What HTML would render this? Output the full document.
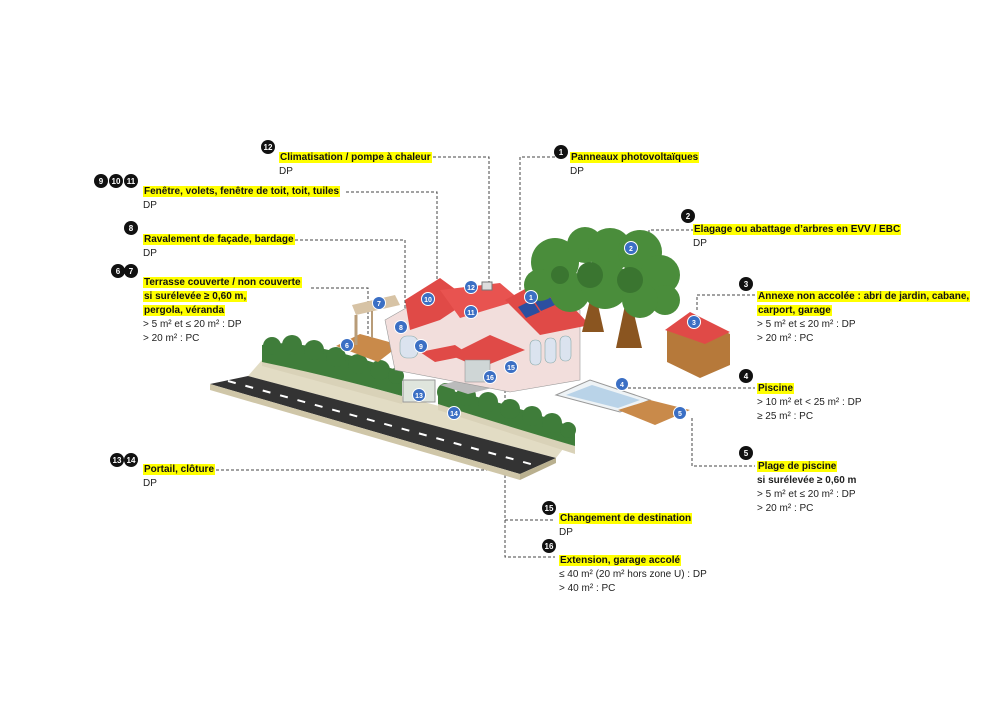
<!DOCTYPE html>
<html><head><meta charset="utf-8"><style>
html,body{margin:0;padding:0;background:#fff}
#c{position:relative;width:1000px;height:707px;overflow:hidden;font-family:"Liberation Sans",sans-serif}
.t{position:absolute;font-size:10px;line-height:14px;color:#222;white-space:nowrap}
.h{background:#ffff00;font-weight:bold;color:#111;padding:0 1px}
</style></head><body><div id="c">
<svg width="1000" height="707" style="position:absolute;left:0;top:0">
<!-- connector lines -->
<g stroke="#444" stroke-width="1" stroke-dasharray="3,2" fill="none">
<path d="M433 157H489V282"/>
<path d="M346 192H437V296"/>
<path d="M295 240H405V322"/>
<path d="M311 288H368V350"/>
<path d="M560 157H520V290"/>
<path d="M694 230H649V242"/>
<path d="M755 295H697V312"/>
<path d="M628 388H755"/>
<path d="M692 418V466H755"/>
<path d="M216 470H505V420"/>
<path d="M505 385V520H555M505 520V557H555"/>
</g>
<!-- sidewalk -->
<polygon points="248,376 262,360 570,440 556,458" fill="#e2dcc4"/>
<!-- road -->
<polygon points="210,384 248,376 556,458 520,474" fill="#333"/>
<polygon points="210,384 520,474 520,480 210,390" fill="#cfc6a8"/>
<polygon points="520,474 556,458 556,463 520,480" fill="#b9b08f"/>
<g stroke="#fff" stroke-width="2" stroke-dasharray="8,10"><line x1="228" y1="381" x2="538" y2="466"/></g>
<!-- low walls -->
<polygon points="262,358 402,396 402,404 262,366" fill="#d9d2b8"/>
<polygon points="438,402 575,446 575,454 438,410" fill="#d9d2b8"/>
<!-- hedges -->
<path d="M262 345 Q300 336 402 372 L402 396 Q330 376 262 362Z" fill="#3f7d3a"/>
<g fill="#3f7d3a"><circle cx="272" cy="346" r="9"/><circle cx="292" cy="345" r="10"/><circle cx="314" cy="350" r="10"/><circle cx="336" cy="357" r="10"/><circle cx="358" cy="364" r="10"/><circle cx="380" cy="370" r="10"/><circle cx="396" cy="376" r="8"/></g>
<path d="M438 388 Q500 400 575 428 L575 446 Q500 424 438 404Z" fill="#3f7d3a"/>
<g fill="#3f7d3a"><circle cx="446" cy="392" r="9"/><circle cx="466" cy="396" r="10"/><circle cx="488" cy="402" r="10"/><circle cx="510" cy="409" r="10"/><circle cx="532" cy="416" r="10"/><circle cx="552" cy="423" r="10"/><circle cx="568" cy="430" r="8"/></g>
<rect x="403" y="380" width="32" height="22" fill="#dfe5dd" stroke="#999"/>
<!-- driveway -->
<polygon points="440,385 470,378 500,386 468,394" fill="#bbb"/>
<!-- terrace -->
<polygon points="336,346 360,334 400,345 378,362" fill="#c98a4a"/>
<polygon points="352,305 395,295 400,305 356,315" fill="#d7c3a5"/>
<line x1="356" y1="315" x2="356" y2="345" stroke="#b89c78" stroke-width="3"/>
<line x1="372" y1="311" x2="372" y2="338" stroke="#b89c78" stroke-width="2"/>
<!-- house -->
<polygon points="385,320 420,300 520,300 580,310 580,380 510,392 395,370" fill="#f2dedc" stroke="#999" stroke-width=".6"/>
<polygon points="405,300 440,278 470,300 440,320 410,330" fill="#e04a47"/>
<polygon points="440,290 500,283 520,300 460,318" fill="#e85350"/>
<polygon points="505,300 545,278 590,325 540,335" fill="#e04a47"/>
<polygon points="450,355 490,335 525,350 480,368" fill="#e04a47"/>
<polygon points="420,352 455,345 470,355 435,362" fill="#e04a47"/>
<rect x="465" y="360" width="25" height="22" fill="#cfd6d6" stroke="#888" stroke-width=".5"/>
<g fill="#2b4fa0"><polygon points="518,307 532,300 540,312 526,318"/><polygon points="533,299 547,292 555,305 541,311"/><polygon points="548,291 560,286 567,298 556,304"/></g>
<g fill="#dbe3ef" stroke="#8aa" stroke-width=".6"><rect x="530" y="340" width="11" height="25" rx="5"/><rect x="545" y="338" width="11" height="25" rx="5"/><rect x="560" y="336" width="11" height="25" rx="5"/><rect x="400" y="336" width="18" height="22" rx="7"/></g>
<rect x="482" y="282" width="10" height="8" fill="#ddd" stroke="#777"/>
<!-- trees -->
<path d="M590 300 L582 332 L604 332 L598 305Z M625 305 L616 348 L642 348 L632 305Z" fill="#8a5520"/>
<g fill="#4a8d3b"><circle cx="555" cy="262" r="24"/><circle cx="585" cy="245" r="18"/><circle cx="610" cy="250" r="22"/><circle cx="640" cy="252" r="22"/><circle cx="660" cy="275" r="20"/><circle cx="665" cy="300" r="15"/><circle cx="540" cy="285" r="16"/><circle cx="570" cy="292" r="20"/><circle cx="605" cy="285" r="24"/><circle cx="640" cy="300" r="18"/></g>
<g fill="#3a7530"><circle cx="590" cy="275" r="13"/><circle cx="630" cy="280" r="13"/><circle cx="560" cy="275" r="9"/></g>
<!-- shed -->
<polygon points="667,330 700,318 730,334 730,365 700,378 667,362" fill="#b6793a"/>
<polygon points="665,330 690,312 730,332 705,344" fill="#e04a47"/>
<!-- pool -->
<polygon points="556,395 590,380 650,400 620,412" fill="#eef3f6" stroke="#999"/>
<polygon points="566,395 592,385 640,400 618,408" fill="#b9d3e8"/>
<polygon points="618,410 650,400 690,410 655,425" fill="#c98a4a"/>
<!-- blue badges -->
<g fill="#3b6fc4" stroke="#fff" stroke-width="1">
<circle cx="531" cy="297" r="6.5"/><circle cx="631" cy="248" r="6.5"/><circle cx="694" cy="322" r="6.5"/><circle cx="622" cy="384" r="6.5"/><circle cx="680" cy="413" r="6.5"/><circle cx="347" cy="345" r="6.5"/><circle cx="379" cy="303" r="6.5"/><circle cx="401" cy="327" r="6.5"/><circle cx="421" cy="346" r="6.5"/><circle cx="428" cy="299" r="6.5"/><circle cx="471" cy="312" r="6.5"/><circle cx="471" cy="287" r="6.5"/><circle cx="419" cy="395" r="6.5"/><circle cx="454" cy="413" r="6.5"/><circle cx="511" cy="367" r="6.5"/><circle cx="490" cy="377" r="6.5"/>
</g>
<g fill="#fff" font-size="7" font-weight="bold" text-anchor="middle" font-family="Liberation Sans">
<text x="531" y="300">1</text><text x="631" y="251">2</text><text x="694" y="325">3</text><text x="622" y="387">4</text><text x="680" y="416">5</text><text x="347" y="348">6</text><text x="379" y="306">7</text><text x="401" y="330">8</text><text x="421" y="349">9</text><text x="428" y="302">10</text><text x="471" y="315">11</text><text x="471" y="290">12</text><text x="419" y="398">13</text><text x="454" y="416">14</text><text x="511" y="370">15</text><text x="490" y="380">16</text>
</g>
<!-- black number badges -->
<g fill="#111">
<circle cx="268" cy="147" r="7"/><circle cx="101" cy="181" r="7"/><circle cx="116" cy="181" r="7"/><circle cx="131" cy="181" r="7"/><circle cx="131" cy="228" r="7"/><circle cx="118" cy="271" r="7"/><circle cx="131" cy="271" r="7"/><circle cx="561" cy="152" r="7"/><circle cx="688" cy="216" r="7"/><circle cx="746" cy="284" r="7"/><circle cx="746" cy="376" r="7"/><circle cx="746" cy="453" r="7"/><circle cx="117" cy="460" r="7"/><circle cx="131" cy="460" r="7"/><circle cx="549" cy="508" r="7"/><circle cx="549" cy="546" r="7"/>
</g>
<g fill="#fff" font-size="8" font-weight="bold" text-anchor="middle" font-family="Liberation Sans">
<text x="268" y="150">12</text><text x="101" y="184">9</text><text x="116" y="184">10</text><text x="131" y="184">11</text><text x="131" y="231">8</text><text x="118" y="274">6</text><text x="131" y="274">7</text><text x="561" y="155">1</text><text x="688" y="219">2</text><text x="746" y="287">3</text><text x="746" y="379">4</text><text x="746" y="456">5</text><text x="117" y="463">13</text><text x="131" y="463">14</text><text x="549" y="511">15</text><text x="549" y="549">16</text>
</g>
</svg>
<div class="t" style="left:279px;top:151px"><span class="h">Climatisation / pompe à chaleur</span><br>DP</div>
<div class="t" style="left:143px;top:185px"><span class="h">Fenêtre, volets, fenêtre de toit, toit, tuiles</span><br>DP</div>
<div class="t" style="left:143px;top:233px"><span class="h">Ravalement de façade, bardage</span><br>DP</div>
<div class="t" style="left:143px;top:276px"><span class="h">Terrasse couverte / non couverte</span><br><span class="h">si surélevée ≥ 0,60 m,</span><br><span class="h">pergola, véranda</span><br>&gt; 5 m² et ≤ 20 m² : DP<br>&gt; 20 m² : PC</div>
<div class="t" style="left:570px;top:151px"><span class="h">Panneaux photovoltaïques</span><br>DP</div>
<div class="t" style="left:693px;top:223px"><span class="h">Elagage ou abattage d’arbres en EVV / EBC</span><br>DP</div>
<div class="t" style="left:757px;top:290px"><span class="h">Annexe non accolée : abri de jardin, cabane,</span><br><span class="h">carport, garage</span><br>&gt; 5 m² et ≤ 20 m² : DP<br>&gt; 20 m² : PC</div>
<div class="t" style="left:757px;top:382px"><span class="h">Piscine</span><br>&gt; 10 m² et &lt; 25 m² : DP<br>≥ 25 m² : PC</div>
<div class="t" style="left:757px;top:460px"><span class="h">Plage de piscine</span><br><b>si surélevée ≥ 0,60 m</b><br>&gt; 5 m² et ≤ 20 m² : DP<br>&gt; 20 m² : PC</div>
<div class="t" style="left:143px;top:463px"><span class="h">Portail, clôture</span><br>DP</div>
<div class="t" style="left:559px;top:512px"><span class="h">Changement de destination</span><br>DP</div>
<div class="t" style="left:559px;top:554px"><span class="h">Extension, garage accolé</span><br>≤ 40 m² (20 m² hors zone U) : DP<br>&gt; 40 m² : PC</div>
</div></body></html>
